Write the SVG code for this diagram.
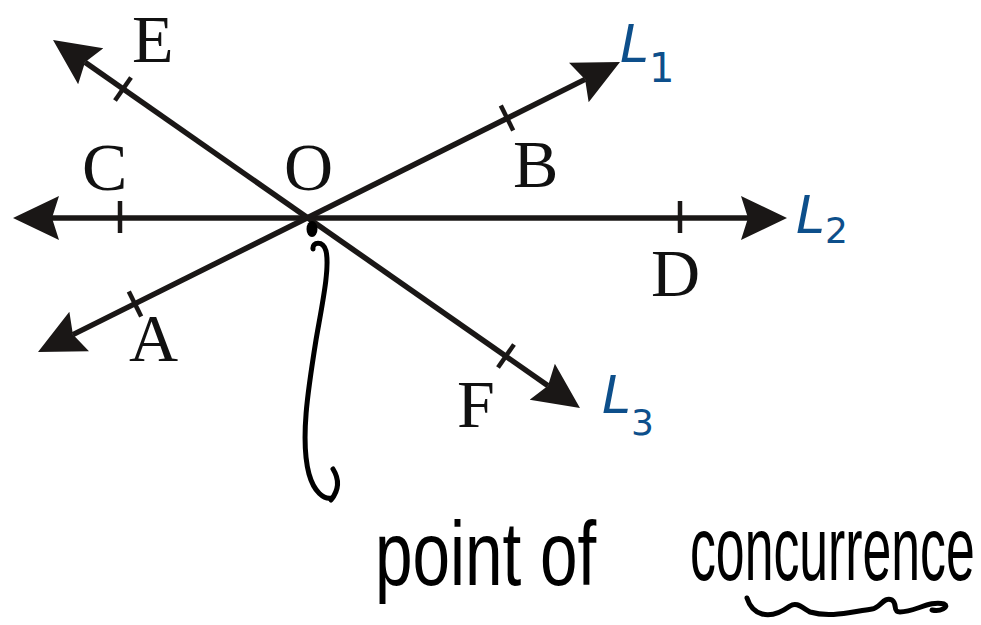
<svg xmlns="http://www.w3.org/2000/svg" width="981" height="625" viewBox="0 0 981 625">
  <style>
    .ln { stroke: #1a1716; stroke-width: 5.5; fill: none; }
    .tick { stroke: #1a1716; stroke-width: 4.5; fill: none; }
    .pt { font-family: "Liberation Serif", "Times New Roman", serif; font-size: 68px; fill: #111; }
    .hl { font-family: "DejaVu Sans", "Noto Sans", sans-serif; font-style: italic; fill: #0d4f8b; }
    .hw { font-family: "Liberation Sans", "Noto Sans", sans-serif; fill: #000; }
    .pen { stroke: #000; stroke-width: 5; fill: none; stroke-linecap: round; stroke-linejoin: round; }
  </style>
  <defs>
    <marker id="ah" viewBox="0 -23 46 46" refX="7" refY="0" markerWidth="46" markerHeight="46" markerUnits="userSpaceOnUse" orient="auto-start-reverse">
      <path d="M0,-22 L46,0 L0,22 L7,0 Z" fill="#1a1716"/>
    </marker>
  </defs>
  <rect width="981" height="625" fill="#ffffff"/>

  <g id="connectors">
    <line id="L2-line" class="ln" x1="52" y1="218" x2="748" y2="218" marker-start="url(#ah)" marker-end="url(#ah)"/>
    <line id="L1-line" class="ln" x1="72.9" y1="334.6" x2="585.1" y2="79.4" marker-start="url(#ah)" marker-end="url(#ah)"/>
    <line id="L3-line" class="ln" x1="85" y1="62.3" x2="548" y2="385.7" marker-start="url(#ah)" marker-end="url(#ah)"/>
  </g>

  <g id="ticks">
    <line class="tick" x1="120" y1="201" x2="120" y2="233"/>
    <line class="tick" x1="680" y1="201" x2="680" y2="233"/>
    <line class="tick" x1="128.8" y1="291.5" x2="141.2" y2="316.5"/>
    <line class="tick" x1="500.8" y1="105.5" x2="513.2" y2="130.5"/>
    <line class="tick" x1="131" y1="77.5" x2="115" y2="100.5"/>
    <line class="tick" x1="514" y1="344.5" x2="498" y2="367.5"/>
  </g>

  <g id="node-O">
    <ellipse cx="312" cy="229" rx="5.5" ry="8" fill="#000"/>
    <text class="pt" x="284" y="190">O</text>
  </g>
  <g id="node-E"><text class="pt" x="132" y="62">E</text></g>
  <g id="node-C"><text class="pt" x="82" y="190">C</text></g>
  <g id="node-B"><text class="pt" x="513" y="187">B</text></g>
  <g id="node-D"><text class="pt" x="651" y="296">D</text></g>
  <g id="node-A"><text class="pt" x="129" y="361">A</text></g>
  <g id="node-F"><text class="pt" x="457" y="427">F</text></g>

  <g id="label-L1"><text class="hl" x="620" y="62" font-size="52">L<tspan font-size="40" font-style="normal" dy="20">1</tspan></text></g>
  <g id="label-L2"><text class="hl" x="796" y="233" font-size="52">L<tspan font-size="36" font-style="normal" dy="10">2</tspan></text></g>
  <g id="label-L3"><text class="hl" x="602" y="413" font-size="52">L<tspan font-size="36" font-style="normal" dy="22">3</tspan></text></g>

  <g id="annotation">
    <path class="pen" d="M313,249 C312,242 323,240 326,251 C330,268 322,305 316,340 C308,390 300,440 309,474 C314,492 324,500 332,498"/>
    <path class="pen" d="M333,469 Q343,485 331,500" stroke-width="6"/>
    <text class="hw" font-size="90" transform="translate(375,585) scale(0.75,1)">point of</text>
    <text class="hw" font-size="90" transform="translate(690,580) scale(0.575,1)">concurrence</text>
    <path class="pen" d="M747,598 C752,614 768,622 790,606 C796,602 800,606 810,612 C830,618 850,612 872,609 C880,608 884,596 892,600 C898,604 892,612 900,612 C915,612 930,600 944,604 C950,607 940,612 932,610"/>
  </g>
</svg>
